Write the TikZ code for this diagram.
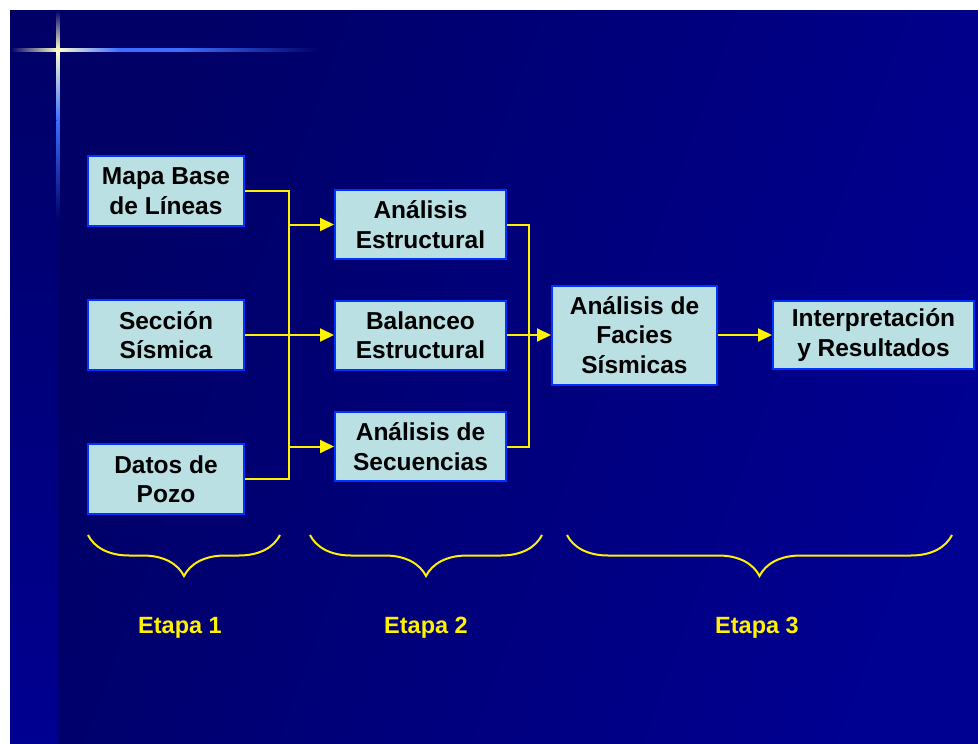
\documentclass[tikz,border=0pt]{standalone}
\usepackage{fontspec}
\setmainfont{Liberation Sans}
\usetikzlibrary{arrows.meta,decorations.pathreplacing}

\definecolor{navyA}{RGB}{0,0,102}
\definecolor{navyB}{RGB}{0,0,145}
\definecolor{boxfill}{RGB}{186,224,228}
\definecolor{boxline}{RGB}{0,51,255}
\definecolor{glow}{RGB}{60,110,255}

\tikzset{%
  stage/.style ={rectangle, draw=boxline, line width=2pt, fill=boxfill,
    align=center, inner sep=0pt, font=\bfseries\fontsize{24.5}{29.5}\selectfont},
  link/.style  ={draw=yellow, line width=2pt},
  arrow/.style ={link, -{Triangle[length=14pt, width=13pt]}},
  bracket/.style={draw=yellow, line width=2pt,
    decorate, decoration={brace, mirror, amplitude=41pt, aspect=0.5}},
  etapa/.style ={text=yellow, font=\bfseries\fontsize{23.5}{28}\selectfont},
}

\begin{document}
\begin{tikzpicture}[x=1pt, y=-1pt]
  \useasboundingbox (0,0) rectangle (978,744);
  % slide background
  \fill[white] (0,0) rectangle (978,744);
  \shade[left color=navyA, right color=navyB, shading angle=70] (58,10) rectangle (978,744);
  \shade[top color=navyA, bottom color=navyB] (10,10) rectangle (58,744);
  % glow cross
  \shade[left color=navyA, right color=white!80!yellow] (10,48.5) rectangle (58,51.5);
  \shade[left color=white!80!yellow, right color=glow, middle color=glow] (58,48.5) rectangle (180,51.5);
  \shade[left color=glow, right color=navyA] (180,48.5) rectangle (320,51.5);
  \shade[top color=navyA, bottom color=white!80!yellow] (56.5,10) rectangle (59.5,50);
  \shade[top color=white!80!yellow, bottom color=glow] (56.5,50) rectangle (59.5,120);
  \shade[top color=glow, bottom color=navyA] (56.5,120) rectangle (59.5,220);

  \node[stage, minimum width=156pt, minimum height=70pt] (mapa) at (166, 191) {Mapa Base\\de Líneas};
  \node[stage, minimum width=156pt, minimum height=70pt] (seccion) at (166, 335) {Sección\\Sísmica};
  \node[stage, minimum width=156pt, minimum height=70pt] (datos) at (166, 479) {Datos de\\Pozo};
  \node[stage, minimum width=171pt, minimum height=69pt] (estruct) at (420.5, 224.5) {Análisis\\Estructural};
  \node[stage, minimum width=171pt, minimum height=69pt] (balanceo) at (420.5, 335) {Balanceo\\Estructural};
  \node[stage, minimum width=171pt, minimum height=69pt] (secuen) at (420.5, 446.5) {Análisis de\\Secuencias};
  \node[stage, minimum width=165pt, minimum height=99pt] (facies) at (634.5, 335) {Análisis de\\Facies\\Sísmicas};
  \node[stage, minimum width=201pt, minimum height=68pt] (interp) at (873.5, 335) {Interpretación\\y Resultados};

  \coordinate (jl) at (289, 335);
  \coordinate (jr) at (529, 335);
  \draw[link] (mapa.east) -| (jl) |- (datos.east);
  \draw[arrow] (jl |- estruct.west) -- (estruct.west);
  \draw[arrow] (seccion.east) -- (balanceo.west);
  \draw[arrow] (jl |- secuen.west) -- (secuen.west);
  \draw[link] (estruct.east) -| (jr) |- (secuen.east);
  \draw[arrow] (balanceo.east) -- (facies.west);
  \draw[arrow] (facies.east) -- (interp.west);

  % stages
  \draw[bracket] (88, 535) -- (280, 535);
  \draw[bracket] (310, 535) -- (542, 535);
  \draw[bracket] (567, 535) -- (952, 535);
  \node[etapa] (e1) at (180, 628) {Etapa 1};
  \node[etapa] (e2) at (426, 628) {Etapa 2};
  \node[etapa] (e3) at (757, 628) {Etapa 3};
\end{tikzpicture}
\end{document}
